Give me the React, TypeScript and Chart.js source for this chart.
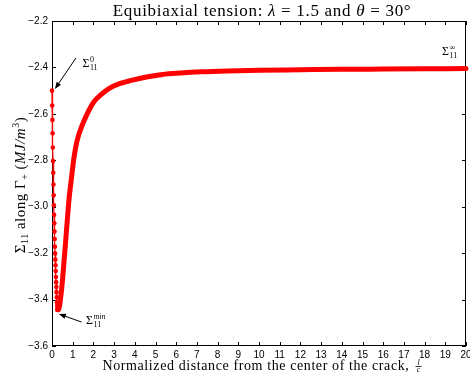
import React, { useEffect, useRef } from 'react';
import { Chart, registerables } from 'chart.js';

Chart.register(...registerables);

// ---- data ----
const leftX = [0, 0.01, 0.02, 0.03, 0.04, 0.05, 0.06, 0.07, 0.08, 0.09, 0.1, 0.11, 0.12, 0.13, 0.14, 0.15, 0.16, 0.17, 0.18, 0.19, 0.2, 0.21, 0.22, 0.23, 0.24, 0.25, 0.26, 0.27];
const leftY = [-2.5, -2.564, -2.626, -2.684, -2.745, -2.803, -2.854, -2.904, -2.951, -2.994, -3.035, -3.071, -3.107, -3.139, -3.172, -3.201, -3.228, -3.252, -3.277, -3.303, -3.325, -3.346, -3.368, -3.39, -3.412, -3.426, -3.438, -3.444];
const rightX = [0.27, 0.32, 0.36, 0.4, 0.46, 0.56, 0.69, 0.82, 0.95, 1.05, 1.2, 1.45, 1.7, 2.02, 2.4, 2.75, 3.2, 3.88, 4.5, 5.34, 6.2, 7.2, 8.5, 10, 12, 14, 16, 18, 20];
const rightY = [-3.444, -3.443, -3.43, -3.404, -3.36, -3.26, -3.114, -2.97, -2.87, -2.796, -2.72, -2.651, -2.6, -2.549, -2.515, -2.491, -2.472, -2.455, -2.442, -2.43, -2.424, -2.419, -2.415, -2.412, -2.41, -2.408, -2.407, -2.406, -2.405];

const xRange = [0, 20];
const yRange = [-3.6, -2.2];
const xStep = 1;
const yStep = 0.2;

const titleText = ['Equibiaxial tension: ', 'λ', ' = 1.5 and ', 'θ', ' = 30°'];
const xTitleText = 'Normalized distance from the center of the crack, ';
const xTitleFrac = ['l', 'c'];
const yTitleText = ['Σ', '11', ' along ', 'Γ', '+', ' (', 'MJ/m', '3', ')'];

// annotations: [label x, label y, arrow tail x, tail y, arrow tip x, tip y] in data units
const sigma0 = [1.47, -2.398, 1.16, -2.359, 0.14, -2.493];
const sigmaMin = [1.64, -3.505, 1.43, -3.497, 0.33, -3.462];
const sigmaInf = [18.84, -2.346];

const SERIF = '"Liberation Serif", "DejaVu Serif", serif';
const SANS = '"Liberation Sans", Arial, sans-serif';

type Part = { t: string; f: string; dy?: number };

function drawParts(ctx: CanvasRenderingContext2D, parts: Part[], x: number, y: number, align: 'center' | 'left', spacing = 0) {
  (ctx as any).letterSpacing = `${spacing}px`;
  let total = 0;
  for (const p of parts) {
    ctx.font = p.f;
    total += ctx.measureText(p.t).width;
  }
  let cx = align === 'center' ? x - total / 2 : x;
  ctx.textAlign = 'left';
  ctx.textBaseline = 'alphabetic';
  for (const p of parts) {
    ctx.font = p.f;
    ctx.fillText(p.t, cx, y + (p.dy || 0));
    cx += ctx.measureText(p.t).width;
  }
  (ctx as any).letterSpacing = '0px';
  return total;
}

function drawSigma(ctx: CanvasRenderingContext2D, x: number, y: number, sup: string, supItalic: boolean) {
  ctx.textAlign = 'left';
  ctx.textBaseline = 'alphabetic';
  ctx.font = `12px ${SERIF}`;
  ctx.fillText('Σ', x, y);
  const w = ctx.measureText('Σ').width + 0.5;
  ctx.font = `${supItalic ? 'italic ' : ''}8px ${SERIF}`;
  ctx.fillText(sup, x + w, y - 5);
  ctx.font = `8px ${SERIF}`;
  ctx.fillText('11', x + w, y + 3);
}

function drawArrow(ctx: CanvasRenderingContext2D, x1: number, y1: number, x2: number, y2: number) {
  const ang = Math.atan2(y2 - y1, x2 - x1);
  const hl = 7;
  const hw = 2.6;
  ctx.strokeStyle = '#000';
  ctx.lineWidth = 1;
  ctx.beginPath();
  ctx.moveTo(x1, y1);
  ctx.lineTo(x2 - Math.cos(ang) * hl * 0.8, y2 - Math.sin(ang) * hl * 0.8);
  ctx.stroke();
  ctx.fillStyle = '#000';
  ctx.beginPath();
  ctx.moveTo(x2, y2);
  ctx.lineTo(x2 - Math.cos(ang) * hl - Math.sin(ang) * hw, y2 - Math.sin(ang) * hl + Math.cos(ang) * hw);
  ctx.lineTo(x2 - Math.cos(ang) * hl + Math.sin(ang) * hw, y2 - Math.sin(ang) * hl - Math.cos(ang) * hw);
  ctx.closePath();
  ctx.fill();
}

const framePlugin = {
  id: 'frame',
  beforeDatasetsDraw(chart: any) {
    const { ctx, chartArea, scales } = chart;
    const { left, right, top, bottom } = chartArea;
    ctx.save();
    ctx.strokeStyle = '#000';
    ctx.lineWidth = 1;
    ctx.strokeRect(left + 0.5, top + 0.5, right - left - 1, bottom - top - 1);
    const tl = 4;
    ctx.beginPath();
    for (const t of scales.x.ticks) {
      const px = Math.round(scales.x.getPixelForValue(t.value)) + 0.5;
      ctx.moveTo(px, bottom);
      ctx.lineTo(px, bottom - tl);
      ctx.moveTo(px, top);
      ctx.lineTo(px, top + tl);
    }
    for (const t of scales.y.ticks) {
      const py = Math.round(scales.y.getPixelForValue(t.value)) + 0.5;
      ctx.moveTo(left, py);
      ctx.lineTo(left + tl, py);
      ctx.moveTo(right, py);
      ctx.lineTo(right - tl, py);
    }
    ctx.stroke();
    ctx.restore();
  },
  afterDraw(chart: any) {
    const { ctx, scales } = chart;
    const X = (v: number) => scales.x.getPixelForValue(v);
    const Y = (v: number) => scales.y.getPixelForValue(v);
    ctx.save();
    ctx.fillStyle = '#000';
    // title
    const tf = `17px ${SERIF}`;
    const tfi = `italic 17px ${SERIF}`;
    drawParts(ctx, [
      { t: titleText[0], f: tf },
      { t: titleText[1], f: tfi },
      { t: titleText[2], f: tf },
      { t: titleText[3], f: tfi },
      { t: titleText[4], f: tf },
    ], 262, 15.5, 'center', 0.7);

    // x title
    const xf = `14px ${SERIF}`;
    ctx.font = xf;
    (ctx as any).letterSpacing = '0.6px';
    const wText = ctx.measureText(xTitleText).width;
    const fracW = 6;
    const startX = 261 - (wText + fracW) / 2;
    ctx.textAlign = 'left';
    ctx.textBaseline = 'alphabetic';
    ctx.fillText(xTitleText, startX, 370);
    (ctx as any).letterSpacing = '0px';
    const fx = startX + wText + 2;
    ctx.font = `italic 8px ${SERIF}`;
    ctx.textAlign = 'center';
    ctx.fillText(xTitleFrac[0], fx + fracW / 2, 364.5);
    ctx.fillText(xTitleFrac[1], fx + fracW / 2, 372);
    ctx.fillRect(fx, 366, fracW, 0.8);

    // y title
    ctx.save();
    ctx.translate(25, 185);
    ctx.rotate(-Math.PI / 2);
    const yf = `15px ${SERIF}`;
    const yfs = `10px ${SERIF}`;
    const yfi = `italic 15px ${SERIF}`;
    drawParts(ctx, [
      { t: yTitleText[0], f: yf },
      { t: yTitleText[1], f: yfs, dy: 3 },
      { t: yTitleText[2], f: yf },
      { t: yTitleText[3], f: yf },
      { t: yTitleText[4], f: yfs, dy: 3 },
      { t: yTitleText[5], f: yf },
      { t: yTitleText[6], f: yfi },
      { t: yTitleText[7], f: yfs, dy: -6 },
      { t: yTitleText[8], f: yf },
    ], 0, 0, 'center', 0.5);
    ctx.restore();

    // annotations
    drawSigma(ctx, X(sigma0[0]), Y(sigma0[1]), '0', false);
    drawArrow(ctx, X(sigma0[2]), Y(sigma0[3]), X(sigma0[4]), Y(sigma0[5]));
    drawSigma(ctx, X(sigmaMin[0]), Y(sigmaMin[1]), 'min', true);
    drawArrow(ctx, X(sigmaMin[2]), Y(sigmaMin[3]), X(sigmaMin[4]), Y(sigmaMin[5]));
    drawSigma(ctx, X(sigmaInf[0]), Y(sigmaInf[1]), '∞', false);
    ctx.restore();
  },
};

export default function App() {
  const ref = useRef<HTMLCanvasElement | null>(null);
  useEffect(() => {
    if (!ref.current) return;
    const fmt = (v: number) => v.toFixed(1).replace('-', '\u2212');
    const chart = new Chart(ref.current, {
      type: 'line',
      data: {
        datasets: [
          {
            data: rightX.map((x, i) => ({ x, y: rightY[i] })),
            borderColor: '#ff0000',
            backgroundColor: '#ff0000',
            borderWidth: 5,
            pointRadius: 0,
            cubicInterpolationMode: 'monotone',
            borderCapStyle: 'round',
            borderJoinStyle: 'round',
            clip: false as any,
          },
          {
            data: leftX.map((x, i) => ({ x, y: leftY[i] })),
            borderColor: '#ff0000',
            backgroundColor: '#ff0000',
            borderWidth: 1.3,
            pointRadius: 2.3,
            pointBorderWidth: 0,
            pointBackgroundColor: '#ff0000',
            clip: false as any,
          },
        ],
      },
      options: {
        animation: false,
        responsive: false,
        events: [],
        layout: { padding: { top: 21, right: 3, left: 0, bottom: 0 } },
        plugins: { legend: { display: false }, tooltip: { enabled: false }, title: { display: false } },
        scales: {
          x: {
            type: 'linear',
            min: xRange[0],
            max: xRange[1],
            grid: { display: false, drawTicks: false },
            border: { display: false },
            ticks: { stepSize: xStep, color: '#000', font: { family: SANS, size: 10 }, padding: 3, maxRotation: 0, autoSkip: false },
            afterFit: (s: any) => { s.height = 36; s.paddingLeft = 0; s.paddingRight = 0; },
          },
          y: {
            type: 'linear',
            min: yRange[0],
            max: yRange[1],
            grid: { display: false, drawTicks: false },
            border: { display: false },
            ticks: { stepSize: yStep, color: '#000', font: { family: SANS, size: 10 }, padding: 4, callback: (v: any) => fmt(Number(v)) },
            afterFit: (s: any) => { s.width = 52; s.paddingTop = 0; s.paddingBottom = 0; },
          },
        },
      },
      plugins: [framePlugin],
    } as any);
    return () => chart.destroy();
  }, []);
  return (
    <div style={{ position: 'absolute', left: 0, top: 0, width: 470, height: 382, background: '#fff' }}>
      <canvas ref={ref} width={470} height={382} style={{ display: 'block' }} />
    </div>
  );
}
